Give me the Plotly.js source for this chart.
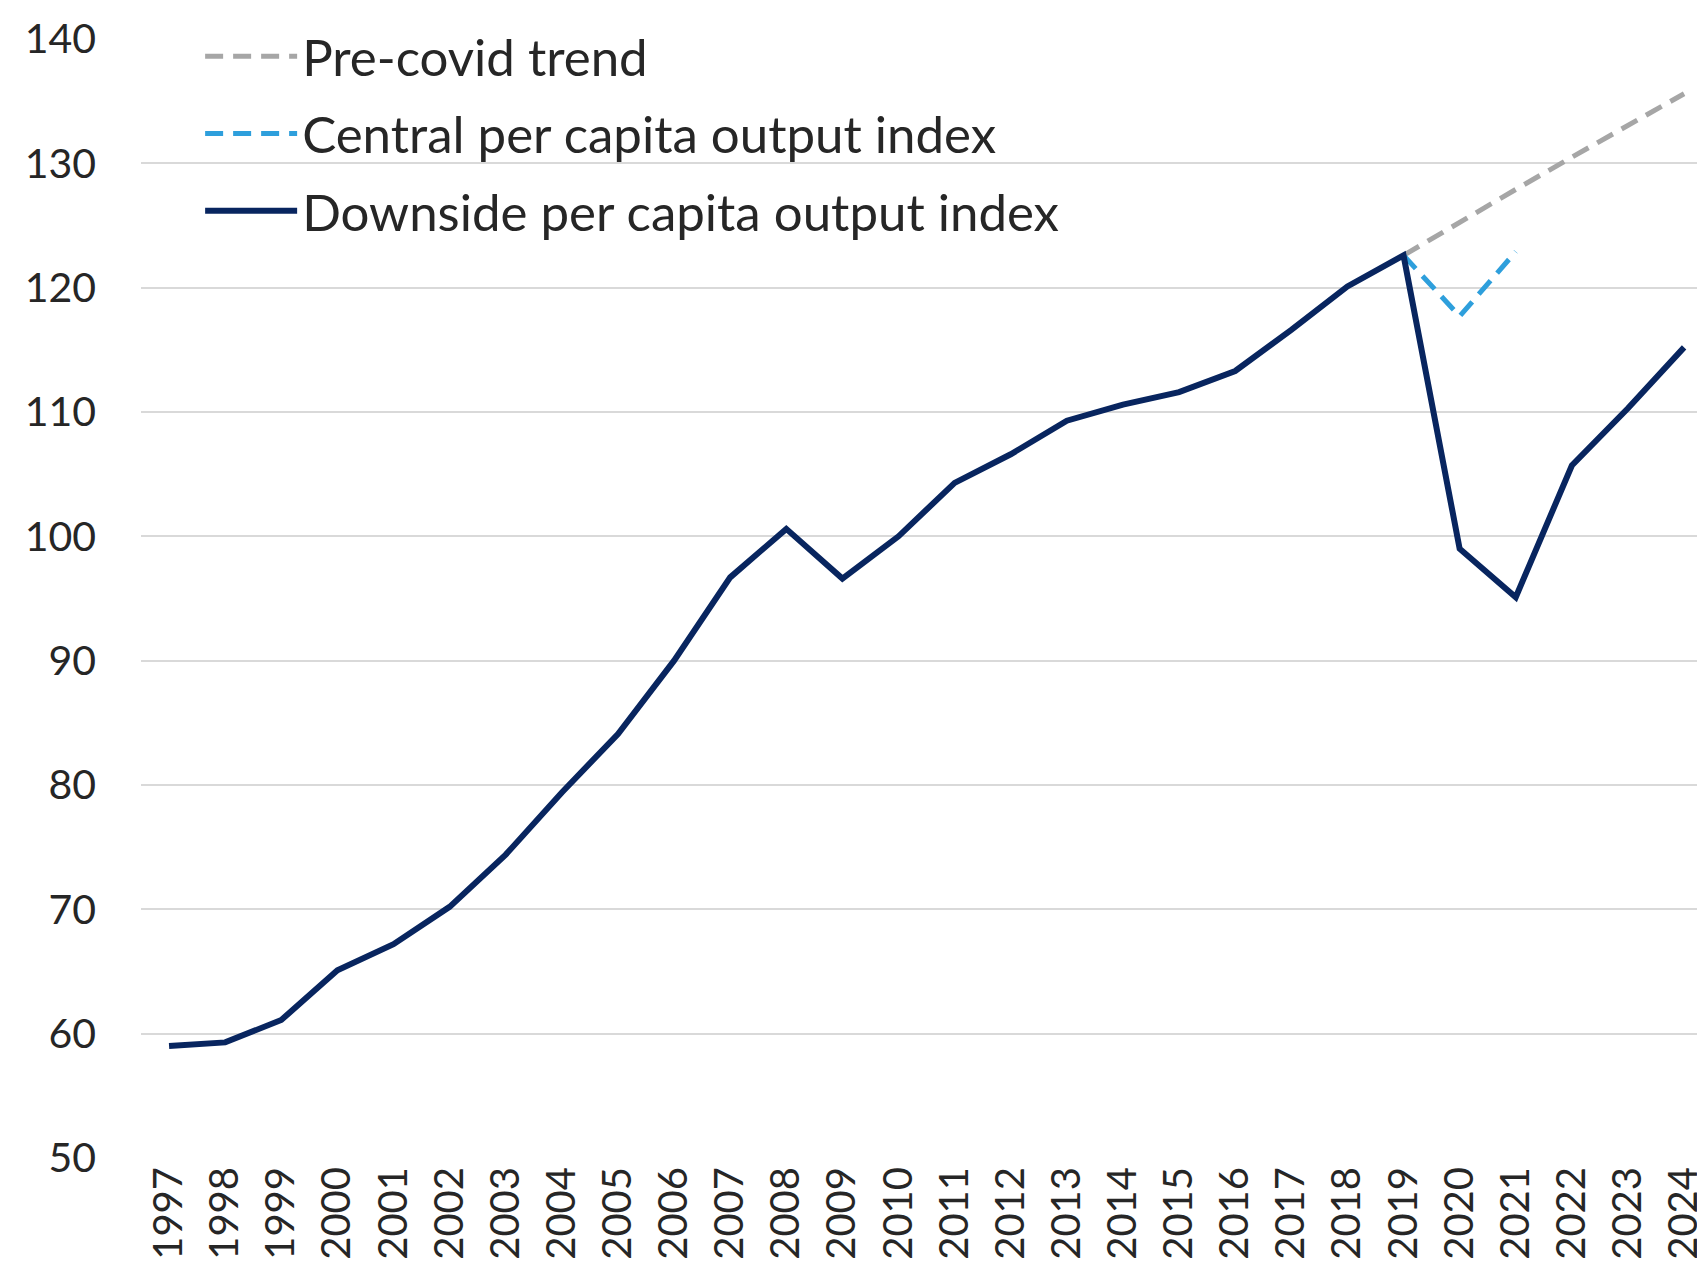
<!DOCTYPE html>
<html>
<head>
<meta charset="utf-8">
<script src="https://cdn.plot.ly/plotly-3.0.1.min.js"></script>
<style>html,body{margin:0;padding:0;background:#fff;}#chart{width:1697px;height:1281px;}</style>
</head>
<body>
<div id="chart"></div>
<script>
const years = ["1997","1998","1999","2000","2001","2002","2003","2004","2005","2006","2007","2008","2009","2010","2011","2012","2013","2014","2015","2016","2017","2018","2019","2020","2021","2022","2023","2024"];
const downside = [59.0,59.3,61.1,65.1,67.2,70.2,74.4,79.4,84.1,90.0,96.7,100.6,96.6,100.0,104.3,106.6,109.3,110.6,111.6,113.3,116.6,120.1,122.6,99.0,95.1,105.7,110.3,115.2];
const centralYears = ["2019","2020","2021"];
const central = [122.6,117.7,122.9];
const trendYears = ["2019","2020","2021","2022","2023","2024"];
const trend = [122.6,125.3,127.9,130.5,133.0,135.6];
const yTicks = [50,60,70,80,90,100,110,120,130,140];

const font = "Lato, 'Open Sans', sans-serif";
const traces = [
  {x: trendYears, y: trend, name: "Pre-covid trend", type: "scatter", mode: "lines",
   legendgroup: "a", line: {color: "#a6a6a6", width: 5, dash: "18px,10px"}},
  {x: centralYears, y: central, name: "Central per capita output index", type: "scatter", mode: "lines",
   legendgroup: "b", line: {color: "#2e9fdc", width: 5, dash: "18px,10px"}},
  {x: years, y: downside, name: "Downside per capita output index", type: "scatter", mode: "lines",
   legendgroup: "c", line: {color: "#08255f", width: 6}}
];
const layout = {
  width: 1697, height: 1281,
  margin: {l: 141, r: 0, t: 39, b: 123},
  paper_bgcolor: "#ffffff", plot_bgcolor: "#ffffff",
  showlegend: true,
  legend: {x: 0.038, y: 1.02, xanchor: "left", yanchor: "top", bgcolor: "rgba(0,0,0,0)",
    font: {family: font, size: 51, color: "#262626"}, tracegroupgap: 8, itemwidth: 92},
  xaxis: {type: "category", categoryorder: "array", categoryarray: years,
    range: [-0.5, 27.23], tickangle: -90, showgrid: false, zeroline: false, showline: false,
    ticks: "", tickfont: {family: font, size: 40, color: "#262626"}},
  yaxis: {range: [50, 140], tickvals: yTicks, ticktext: yTicks.map(String),
    showgrid: true, gridcolor: "#d9d9d9", gridwidth: 2, zeroline: false, showline: false,
    ticks: "", ticklabelstandoff: 44, tickfont: {family: font, size: 41, color: "#262626"}},
};
Plotly.newPlot("chart", traces, layout, {displayModeBar: false, staticPlot: true});
</script>
</body>
</html>
